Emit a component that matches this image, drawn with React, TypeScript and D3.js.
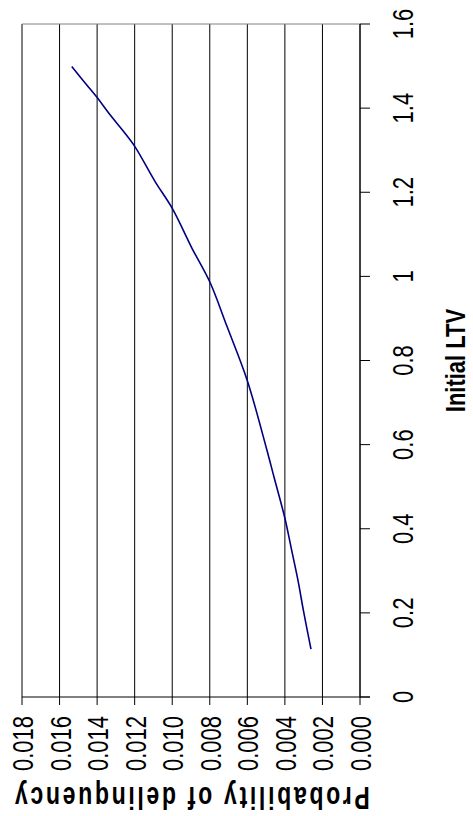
import React from "react";
import * as d3 from "d3";

const ltvTicks = [0, 0.2, 0.4, 0.6, 0.8, 1, 1.2, 1.4, 1.6];
const ltvTickLabels = ["0", "0.2", "0.4", "0.6", "0.8", "1", "1.2", "1.4", "1.6"];
const probTicks = [0, 0.002, 0.004, 0.006, 0.008, 0.01, 0.012, 0.014, 0.016, 0.018];
const probTickLabels = ["0.000", "0.002", "0.004", "0.006", "0.008", "0.010", "0.012", "0.014", "0.016", "0.018"];

const ltvValues = [0.114, 0.207, 0.272, 0.349, 0.425, 0.523, 0.589, 0.752, 0.883, 0.986, 1.068, 1.161, 1.226, 1.308, 1.346, 1.384, 1.428, 1.455, 1.499];
const probValues = [0.00261, 0.00302, 0.00328, 0.00364, 0.0040, 0.00458, 0.00497, 0.0060, 0.0071, 0.00799, 0.00896, 0.00999, 0.01092, 0.01198, 0.01262, 0.01331, 0.01405, 0.01455, 0.01535];

const xAxisTitle = "Initial LTV";
const yAxisTitle = "Probability of delinquency";

export default function App() {
  const W = 473;
  const H = 816;
  const top = 24;
  const bottom = 697;
  const left = 22;
  const right = 360;

  const ltvScale = d3.scaleLinear().domain([0, 1.6]).range([bottom, top]);
  const probScale = d3.scaleLinear().domain([0, 0.018]).range([right, left]);

  const data = ltvValues.map((l, i) => ({ l, p: probValues[i] }));
  const line = d3
    .line<{ l: number; p: number }>()
    .x((d) => probScale(d.p))
    .y((d) => ltvScale(d.l))
    .curve(d3.curveCatmullRom.alpha(0.5));

  const font = "'Liberation Sans', Arial, sans-serif";

  return (
    <svg
      width={W}
      height={H}
      style={{ position: "absolute", left: 0, top: 0, background: "#fff" }}
      fontFamily={font}
    >
      <rect x={0} y={0} width={W} height={H} fill="#fff" />
      {/* gridlines */}
      {probTicks.map((t, i) => (
        <line key={"g" + i} x1={probScale(t)} x2={probScale(t)} y1={top} y2={bottom} stroke="#000" strokeWidth={1} />
      ))}
      {/* top border */}
      <line x1={left} x2={right} y1={top} y2={top} stroke="#808080" strokeWidth={1} />
      {/* bottom (prob) axis */}
      <line x1={left} x2={right + 10} y1={bottom} y2={bottom} stroke="#000" strokeWidth={1} />
      {probTicks.map((t, i) => (
        <line key={"pt" + i} x1={probScale(t)} x2={probScale(t)} y1={bottom} y2={bottom + 8} stroke="#000" strokeWidth={1} />
      ))}
      {probTicks.map((t, i) => (
        <text
          key={"pl" + i}
          transform={`translate(${probScale(t) + 11},716) rotate(-90) scale(1,1.3)`}
          textAnchor="end"
          fontSize={22}
          fill="#000"
        >
          {probTickLabels[i]}
        </text>
      ))}
      {/* right (ltv) axis */}
      <line x1={right} x2={right} y1={top} y2={bottom} stroke="#000" strokeWidth={1} />
      {ltvTicks.map((t, i) => (
        <line key={"lt" + i} x1={right} x2={right + 10} y1={ltvScale(t)} y2={ltvScale(t)} stroke="#000" strokeWidth={1} />
      ))}
      {ltvTicks.map((t, i) => (
        <text
          key={"ll" + i}
          transform={`translate(413,${ltvScale(t)}) rotate(-90) scale(1,1.3)`}
          textAnchor="middle"
          fontSize={22}
          fill="#000"
        >
          {ltvTickLabels[i]}
        </text>
      ))}
      {/* data line */}
      <path d={line(data) || ""} fill="none" stroke="#000080" strokeWidth={1.6} />
      {/* titles */}
      <text
        transform={`translate(465,${(top + bottom) / 2}) rotate(-90) scale(1,1.27)`}
        textAnchor="middle"
        fontSize={22}
        fontWeight="bold"
        fill="#000"
      >
        {xAxisTitle}
      </text>
      <text
        transform={`translate(${(left + right) / 2},787) rotate(180) scale(1,1.35)`}
        textAnchor="middle"
        fontSize={23}
        fontWeight="bold"
        letterSpacing={2.7}
        fill="#000"
      >
        {yAxisTitle}
      </text>
    </svg>
  );
}
